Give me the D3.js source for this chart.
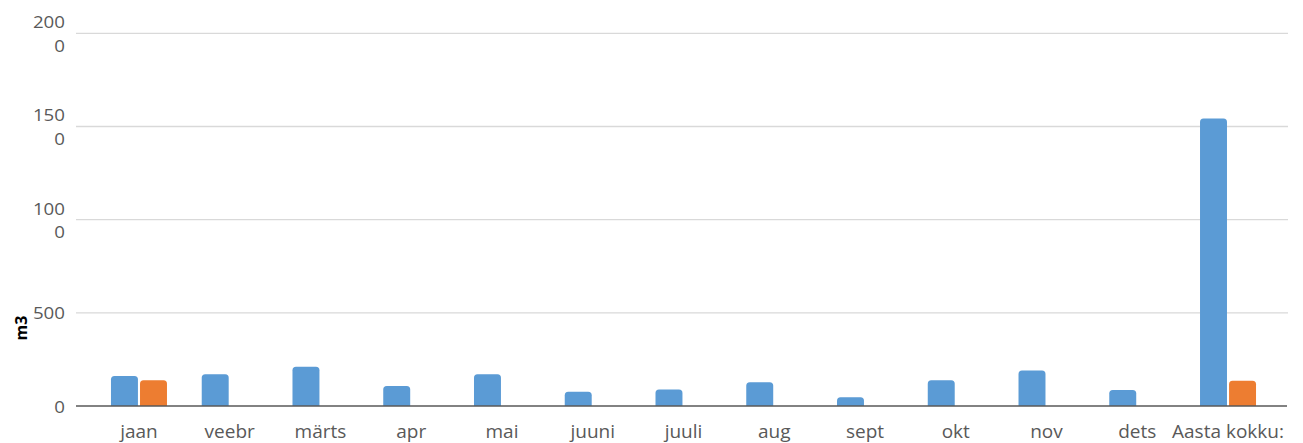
<!DOCTYPE html>
<html>
<head>
<meta charset="utf-8">
<script src="https://cdn.jsdelivr.net/npm/d3@7/dist/d3.min.js"></script>
<style>
  html, body { margin: 0; padding: 0; background: #fff; }
  svg { display: block; }
  text { font-family: "Open Sans", "Noto Sans", sans-serif; fill: #595959; }
</style>
</head>
<body>
<svg id="chart" width="1303" height="443"></svg>
<script>
const categories = ["jaan","veebr","märts","apr","mai","juuni","juuli","aug","sept","okt","nov","dets","Aasta kokku:"];
const seriesBlue = [161,170,211,107,170,77,88,127,47,138,190,86,1543];
const seriesOrange = [138,0,0,0,0,0,0,0,0,0,0,0,136];
const yTicks = [0,500,1000,1500,2000];
const yTickLabels = [["0"],["500"],["100","0"],["150","0"],["200","0"]];
const yTitle = "m3";

const svg = d3.select("#chart");
const plotLeft = 76, plotRight = 1288;
const y = d3.scaleLinear().domain([0, 2000]).range([406, 33.3]);

const x = d3.scaleBand().domain(categories).range([93.6, 1273.4]).paddingInner(0).paddingOuter(0);
const series = [
  {key: "a", values: seriesBlue, color: "#5B9BD5"},
  {key: "b", values: seriesOrange, color: "#ED7D31"}
];
const barW = 26, gap = 4;
const xs = d3.scaleBand().domain(series.map(s => s.key)).range([-(barW + gap/2), barW + gap/2]).paddingInner(gap / (2*barW + gap));

// gridlines
svg.append("g").selectAll("line").data(yTicks.filter(d => d > 0)).join("line")
  .attr("x1", plotLeft).attr("x2", plotRight)
  .attr("y1", d => y(d)).attr("y2", d => y(d))
  .attr("stroke", "#D9D9D9").attr("stroke-width", 1.3);

// y tick labels (wrapped)
const yl = svg.append("g");
yTicks.forEach((t, i) => {
  const lines = yTickLabels[i];
  const lh = 23.4;
  const t0 = y(t) - (lines.length - 1) * lh / 2;
  lines.forEach((l, j) => {
    yl.append("text").attr("text-anchor", "end")
      .attr("font-size", 17).attr("dominant-baseline", "central")
      .attr("transform", `translate(65,${t0 + j * lh}) scale(1.1,1)`)
      .text(l);
  });
});

// y title
svg.append("text").attr("transform", "translate(21,328) rotate(-90)")
  .attr("text-anchor", "middle").attr("dominant-baseline", "central")
  .attr("font-size", 16).attr("font-weight", "bold").style("fill", "#000").text(yTitle);

// bars with rounded top corners
function barPath(x0, w, yTop, yBase, r) {
  const h = yBase - yTop;
  r = Math.min(r, h, w / 2);
  return `M${x0},${yBase}V${yTop + r}Q${x0},${yTop} ${x0 + r},${yTop}H${x0 + w - r}Q${x0 + w},${yTop} ${x0 + w},${yTop + r}V${yBase}Z`;
}
series.forEach(s => {
  svg.append("g").selectAll("path").data(categories.map((c, i) => ({c, v: s.values[i]})).filter(d => d.v > 0)).join("path")
    .attr("d", d => barPath(x(d.c) + x.bandwidth() / 2 + xs(s.key), xs.bandwidth(), y(d.v), y(0), 3.5))
    .attr("fill", s.color);
});

// baseline
svg.append("line").attr("x1", plotLeft).attr("x2", 1287).attr("y1", y(0)).attr("y2", y(0))
  .attr("stroke", "#595959").attr("stroke-width", 1.5);

// x labels
svg.append("g").selectAll("text").data(categories).join("text")
  .attr("x", d => x(d) + x.bandwidth() / 2).attr("y", 430.5)
  .attr("text-anchor", "middle").attr("dominant-baseline", "central")
  .attr("font-size", 19).text(d => d);
</script>
</body>
</html>
